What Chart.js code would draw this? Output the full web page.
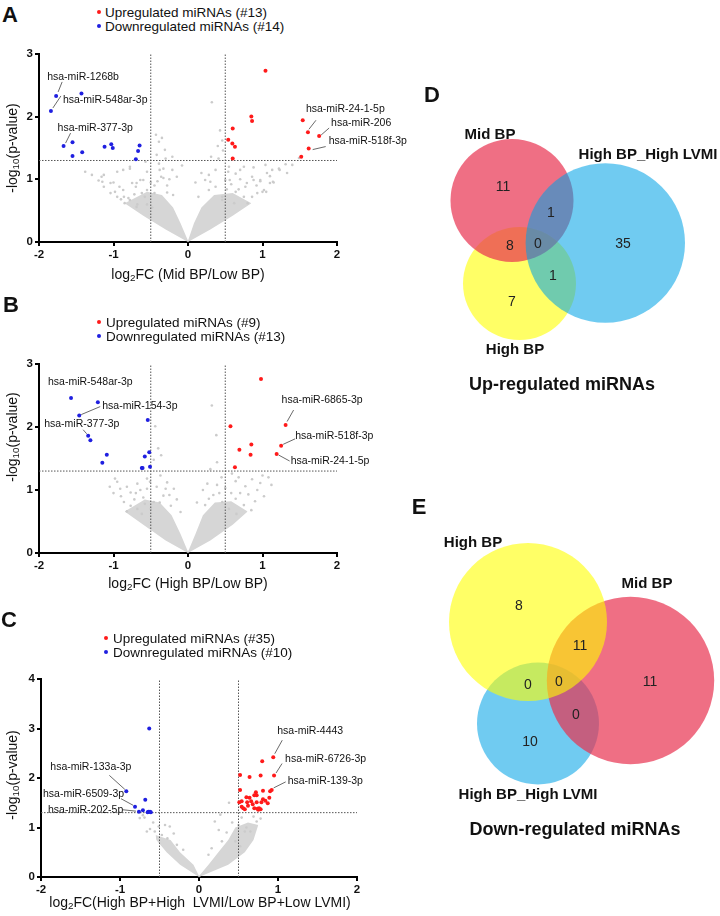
<!DOCTYPE html>
<html>
<head>
<meta charset="utf-8">
<script src="https://cdn.jsdelivr.net/npm/chart.js@4.4.1/dist/chart.umd.min.js"></script>
<style>
  body { margin: 0; background: #fff; }
  #fig { position: relative; width: 720px; height: 916px; overflow: hidden;
         font-family: "Liberation Sans", Arial, sans-serif; color: #111; }
  canvas { position: absolute; }
  .t { position: absolute; white-space: nowrap; transform: translate(-50%, -50%); }
  .letter { font-weight: bold; font-size: 22px; }
  .leg { position: absolute; white-space: nowrap; font-size: 13.5px; transform: translateY(-50%); }
  .dot { position: absolute; width: 4px; height: 4px; border-radius: 50%; transform: translate(-50%, -50%); }
  .ytitle { font-size: 14px; transform: translate(-50%, -50%) rotate(-90deg); }
  .xtitle { font-size: 14px; }
  .vset { font-weight: bold; font-size: 15px; }
  .vtitle { font-weight: bold; font-size: 18px; }
  sub { font-size: 70%; vertical-align: -0.25em; line-height: 0; }
</style>
</head>
<body>
<div id="fig">
  <canvas id="volA" width="420" height="225" style="left:0;top:45px"></canvas>
  <canvas id="volB" width="420" height="226" style="left:0;top:355px"></canvas>
  <canvas id="volC" width="420" height="235" style="left:0;top:670px"></canvas>
  <canvas id="vennD" width="300" height="320" style="left:420px;top:80px"></canvas>
  <canvas id="vennE" width="300" height="310" style="left:420px;top:500px"></canvas>

  <div class="t letter" style="left:10px;top:15px">A</div>
  <div class="dot" style="left:99px;top:12px;background:#ff1a1a"></div>
  <div class="leg" style="left:105px;top:12px">Upregulated miRNAs (#13)</div>
  <div class="dot" style="left:99px;top:26px;background:#1f1fe0"></div>
  <div class="leg" style="left:105px;top:26px">Downregulated miRNAs (#14)</div>
  <div class="t ytitle" style="left:12px;top:148px">-log<sub>10</sub>(p-value)</div>
  <div class="t xtitle" style="left:188px;top:274px">log<sub>2</sub>FC (Mid BP/Low BP)</div>

  <div class="t letter" style="left:11px;top:305px">B</div>
  <div class="dot" style="left:99px;top:322px;background:#ff1a1a"></div>
  <div class="leg" style="left:106px;top:322px">Upregulated miRNAs (#9)</div>
  <div class="dot" style="left:99px;top:336px;background:#1f1fe0"></div>
  <div class="leg" style="left:106px;top:336px">Downregulated miRNAs (#13)</div>
  <div class="t ytitle" style="left:12px;top:437px">-log<sub>10</sub>(p-value)</div>
  <div class="t xtitle" style="left:188px;top:583px">log<sub>2</sub>FC (High BP/Low BP)</div>

  <div class="t letter" style="left:9px;top:620px">C</div>
  <div class="dot" style="left:106px;top:638px;background:#ff1a1a"></div>
  <div class="leg" style="left:113px;top:638px">Upregulated miRNAs (#35)</div>
  <div class="dot" style="left:106px;top:652px;background:#1f1fe0"></div>
  <div class="leg" style="left:113px;top:652px">Downregulated miRNAs (#10)</div>
  <div class="t ytitle" style="left:12px;top:775px">-log<sub>10</sub>(p-value)</div>
  <div class="t xtitle" style="left:200px;top:902px">log<sub>2</sub>FC(High BP+High &nbsp;LVMI/Low BP+Low LVMI)</div>

  <div class="t letter" style="left:432px;top:95px">D</div>
  <div class="t vset" style="left:490px;top:133px">Mid BP</div>
  <div class="t vset" style="left:648px;top:153px">High BP_High LVMI</div>
  <div class="t vset" style="left:515px;top:348px">High BP</div>
  <div class="t vtitle" style="left:562px;top:384px">Up-regulated miRNAs</div>

  <div class="t letter" style="left:419px;top:507px">E</div>
  <div class="t vset" style="left:473px;top:541px">High BP</div>
  <div class="t vset" style="left:647px;top:582px">Mid BP</div>
  <div class="t vset" style="left:528px;top:793px">High BP_High LVMI</div>
  <div class="t vtitle" style="left:575px;top:829px">Down-regulated miRNAs</div>
</div>

<script>
// thresholds
const fcCut = 0.5;
const pCut = 1.3;

// ---- panel A: Mid BP / Low BP ----
const upA = [[1.04,2.73],[0.85,2.00],[0.86,1.93],[0.60,1.81],[0.54,1.63],[0.595,1.57],[0.63,1.52],[0.60,1.33],
  [1.54,1.94],[1.61,1.75],[1.76,1.69],[1.62,1.49],[1.52,1.36]];
const downA = [[-1.77,2.33],[-1.43,2.37],[-1.84,2.09],[-1.67,1.53],[-1.55,1.59],[-1.55,1.37],[-1.42,1.43],
  [-1.12,1.52],[-1.03,1.56],[-1.01,1.50],[-0.65,1.54],[-0.67,1.45],[-0.70,1.32]];
const grayA = [[-1.38,1.12],[-1.29,1.07],[-1.16,1.04],[-1.13,0.88],[-1.04,0.78],[-0.95,0.72],[-0.95,1.12],[-0.87,0.83],
  [-0.78,1.20],[-0.75,0.94],[-0.64,0.99],[-0.57,1.28],[-0.55,1.12],[-0.43,1.71],[-0.39,1.60],[-0.35,1.66],[-0.31,1.47],
  [-0.42,1.39],[-0.30,1.33],[-0.36,1.04],[-0.33,1.17],[-0.21,1.15],[-0.15,1.04],[-0.08,1.22],[-0.50,0.95],[-0.45,0.90],
  [-0.85,0.62],[-0.90,0.68],[-0.70,0.88],[-0.62,0.78],[-1.00,0.95],[-1.20,0.98],[-0.28,0.90],[-0.20,0.75],[-0.55,0.60],
  [-0.48,0.55],[-0.68,0.60],[-0.80,0.70],[-1.13,1.07],[-1.04,0.94],[-1.15,0.96],[-0.87,1.15],[-0.78,1.17],[-0.69,0.94],
  [-0.60,0.99],[-0.55,0.83],[-0.38,1.15],[-0.41,0.97],[-0.33,1.02],[-0.28,0.79],[-0.21,1.36],[-0.39,1.25],[-0.86,0.72],
  [-0.78,0.67],[-0.69,0.56],[-0.98,0.80],[-0.92,0.88],[-0.72,0.76],[-0.58,0.72],[-0.45,0.78],[-0.25,1.0],
  [0.32,2.23],[0.43,1.78],[0.46,1.62],[0.40,1.53],[0.47,1.46],[0.31,1.36],[0.41,1.33],[0.75,1.20],[0.88,1.19],[1.04,1.23],
  [1.15,0.95],[1.13,1.15],[1.31,1.24],[1.40,1.23],[1.49,1.34],[0.97,0.99],[1.05,0.80],[0.86,1.04],[0.77,0.88],[0.64,1.09],
  [0.55,1.20],[0.50,0.99],[0.37,1.15],[0.23,0.99],[0.28,0.83],[0.64,0.80],[0.86,0.72],[1.00,0.80],[0.46,0.72],[0.14,0.72],
  [1.22,1.17],[1.14,0.96],[1.33,1.10],[0.70,1.00],[0.92,0.90],[1.10,1.05],[0.58,0.92],[0.18,1.10],[0.10,0.95],
  [0.28,1.07],[0.30,0.96],[0.37,0.88],[0.54,1.12],[0.56,0.99],[0.70,1.15],[0.79,0.94],[0.88,0.99],[0.93,0.78],[0.97,0.97],
  [1.02,0.83],[1.06,1.10],[1.10,0.94],[1.23,1.15],[0.75,0.72],[0.62,0.62],[0.80,0.62],[0.46,0.67],[0.68,0.84],[0.52,0.84]];
// dense part of the grey cloud: upper and lower outline
const coreTopA = [[-0.85,0.62],[-0.55,0.8],[-0.35,0.75],[-0.2,0.55],[-0.1,0.3],[0,0.02],[0.08,0.3],[0.18,0.55],
  [0.35,0.75],[0.6,0.78],[0.85,0.62]];
const coreBottomA = [[-0.85,0.62],[-0.6,0.42],[-0.3,0.2],[0,0],[0.3,0.2],[0.6,0.42],[0.85,0.62]];
const namesA = ['hsa-miR-1268b','hsa-miR-548ar-3p','hsa-miR-377-3p','hsa-miR-24-1-5p','hsa-miR-206','hsa-miR-518f-3p'];
const namedA = [downA[0], downA[2], downA[3], upA[9], upA[10], upA[11]];

// ---- panel B: High BP / Low BP ----
const upB = [[0.98,2.76],[0.57,2.01],[1.31,2.03],[1.25,1.70],[1.19,1.57],[0.85,1.72],[0.84,1.56],[0.69,1.64],[0.63,1.36]];
const downB = [[-1.57,2.46],[-1.21,2.39],[-1.46,2.18],[-1.34,1.86],[-1.31,1.79],[-1.09,1.56],[-1.15,1.43],
  [-0.54,2.11],[-0.52,1.60],[-0.58,1.53],[-0.51,1.37],[-0.62,1.35],[-0.61,1.35]];
const grayB = [[-0.44,2.01],[-0.40,1.66],[-0.36,1.55],[-0.46,1.48],[-0.95,1.13],[-0.91,1.02],[-0.82,1.05],[-0.68,1.10],
  [-0.77,0.96],[-0.64,1.00],[-0.55,1.02],[-0.51,1.13],[-0.77,0.75],[-0.68,0.70],[-0.86,0.81],[-0.37,1.23],[-0.28,1.12],
  [-0.19,1.02],[-0.33,0.91],[-0.46,0.81],[-0.23,0.75],[-0.55,1.18],[-0.98,1.18],[-1.05,1.05],[-0.60,0.88],[-0.72,0.85],
  [-0.42,1.05],[-0.15,0.85],[-0.10,0.65],[-0.90,0.90],[-0.82,0.66],[-0.62,0.62],[-0.50,0.70],[-0.38,0.80],[-0.30,1.02],
  [-1.00,0.95],[-0.70,0.95],[-0.58,0.78],[-0.25,0.92],
  [0.32,2.34],[0.38,1.87],[0.39,1.44],[0.30,1.33],[0.59,1.26],[0.68,1.20],[0.86,1.17],[1.00,1.23],[0.77,1.06],[0.64,1.14],
  [0.50,1.03],[0.39,1.08],[0.34,0.92],[0.46,0.81],[0.28,0.86],[0.23,0.76],[0.81,0.93],[0.93,1.00],[0.97,1.11],[0.64,0.86],
  [0.55,0.70],[0.75,0.76],[1.08,1.20],[0.45,1.20],[0.20,1.00],[0.12,0.80],[0.90,0.82],[1.12,1.08],[0.70,0.95],[0.58,0.95],
  [0.85,0.68],[0.65,0.62],[1.02,0.90],[0.26,1.10],[0.42,0.95]];
const coreTopB = [[-0.85,0.66],[-0.58,0.85],[-0.38,0.8],[-0.22,0.6],[-0.1,0.3],[0,0.02],[0.1,0.3],[0.2,0.6],
  [0.36,0.8],[0.58,0.82],[0.8,0.66]];
const coreBottomB = [[-0.85,0.66],[-0.6,0.45],[-0.3,0.2],[0,0],[0.3,0.2],[0.6,0.45],[0.8,0.66]];
const namesB = ['hsa-miR-548ar-3p','hsa-miR-154-3p','hsa-miR-377-3p','hsa-miR-6865-3p','hsa-miR-518f-3p','hsa-miR-24-1-5p'];
const namedB = [downB[0], downB[2], downB[3], upB[2], upB[3], upB[4]];

// ---- panel C: High BP+High LVMI / Low BP+Low LVMI ----
const upC = [[0.94,2.42],[0.80,2.34],[0.95,2.05],[0.52,2.06],[0.64,2.02],[0.78,2.05],[0.52,1.76],[0.92,1.76],[0.90,1.73],
  [0.81,1.74],[0.72,1.71],[0.73,1.65],[0.70,1.65],[0.60,1.61],[0.54,1.53],[0.61,1.51],[0.66,1.53],[0.73,1.51],[0.81,1.57],
  [0.84,1.54],[0.79,1.51],[0.68,1.47],[0.56,1.39],[0.58,1.37],[0.70,1.39],[0.74,1.38],[0.76,1.39],[0.75,1.36],[0.78,1.37],
  [0.54,1.42],[0.64,1.60],[0.89,1.60],[0.87,1.49],[0.51,1.51],[0.62,1.44]];
const downC = [[-0.63,3.00],[-0.92,1.73],[-0.68,1.56],[-0.81,1.42],[-0.71,1.35],[-0.76,1.32],[-0.64,1.32],[-0.62,1.32],
  [-0.65,1.31],[-0.61,1.31]];
const grayC = [[-0.75,1.19],[-0.69,1.20],[-0.71,1.25],[-0.62,0.97],[-0.56,0.92],[-0.51,1.02],[-0.43,1.05],[-0.37,1.02],
  [-0.47,0.85],[-0.32,0.88],[-0.66,0.92],[-0.28,0.65],[-0.20,0.55],[-0.40,0.78],[-0.58,1.10],
  [0.27,1.26],[0.20,1.12],[0.35,0.90],[0.58,0.92],[0.65,0.92],[0.73,1.12],[0.54,1.20],[0.69,1.22],[0.46,0.72],[0.29,0.72],
  [0.16,0.58],[0.38,1.50],[0.42,1.10],[0.50,1.05],[0.60,1.00],[0.78,1.18],[0.25,0.95],[0.12,0.45],[0.52,0.62]];
const coreTopC = [[-0.55,0.85],[-0.36,0.75],[-0.24,0.5],[-0.07,0.25],[0,0.02],[0.12,0.25],[0.245,0.5],[0.37,0.75],
  [0.46,1.0],[0.62,1.1],[0.75,1.05]];
const coreBottomC = [[-0.55,0.85],[-0.54,0.75],[-0.41,0.5],[-0.24,0.25],[0,0],[0.37,0.25],[0.58,0.5],[0.69,0.75],[0.75,1.05]];
const namesC = ['hsa-miR-4443','hsa-miR-6726-3p','hsa-miR-139-3p','hsa-miR-133a-3p','hsa-miR-6509-3p','hsa-miR-202-5p'];
const namedC = [upC[0], upC[2], upC[7], downC[1], downC[3], downC[5]];

// ---- Venn counts (region order: A only, A&C, A&B, all, C only, B&C, B only) ----
const upSets = ['Mid BP', 'High BP', 'High BP_High LVMI'];
const upCounts = [11, 1, 8, 0, 35, 1, 7];
const downSets = ['High BP', 'Mid BP', 'High BP_High LVMI'];
const downCounts = [8, 11, 0, 0, 11, 0, 10];

// label placement: [text dx, text dy, leader x1, y1, x2, y2] in px from the point
const labelPosA = [[-9,-19,6,-14,2,-4],[12,-11,10,-15,2,-3],[-6,-18,7,-13,2,-3],
  [-2,-23,8,-12,1,-3],[12,-13,10,-8,2,-1],[20,-7,17,-2,4,1]];
const labelPosB = [[-23,-16],[23,-9,21,-9,2,-1],[-44,-12,-5,-6,-1.5,-2],
  [-4,-25,8,-15,1.5,-3.5],[14,-10,14,-7,2,-1.5],[14,7,13,7,2,1]];
const labelPosC = [[4,-26,9,-17,1.5,-3.5],[11,-16,8,-12,2,-2.5],[16,-9,14,-8,2,-2],
  [-76,-24,-17,-16,-1.5,-2],[-92,-13,-14,-8,-2,-1.5],[-91,-2,-17,-2,-3,-0.5]];

// Venn layout: canvas px (scale units are 1:1 with pixels)
const COL_RED = 'rgba(232,50,80,0.7)', COL_YEL = 'rgba(255,255,0,0.6)', COL_BLU = 'rgba(0,162,230,0.56)';
const upCircles = [ {x:185.3, y:163, r:79.7, c:COL_BLU}, {x:92, y:120.5, r:61.5, c:COL_RED}, {x:99.5, y:203.5, r:56.5, c:COL_YEL} ];
const upCountPos = [[83,107],[131,133],[90,166],[118,164],[203,164],[133,196],[92,222]];
const downCircles = [ {x:108, y:122, r:79, c:COL_YEL}, {x:210.5, y:180.5, r:83.7, c:COL_RED}, {x:118, y:223.5, r:61, c:COL_BLU} ];
const downCountPos = [[99,106],[160,146],[108,185],[139,182],[230,182],[156,215],[110,242]];

const FONT = '"Liberation Sans", Arial, sans-serif';

Chart.register({
  id: 'pointLabels',
  afterDatasetsDraw(chart, args, opts) {
    if (!opts.names) return;
    const { ctx, scales: { x, y } } = chart;
    ctx.save();
    ctx.font = '10.5px ' + FONT;
    ctx.fillStyle = '#111';
    ctx.strokeStyle = '#444';
    ctx.lineWidth = 0.8;
    ctx.textBaseline = 'middle';
    opts.names.forEach((name, i) => {
      const px = x.getPixelForValue(opts.points[i][0]);
      const py = y.getPixelForValue(opts.points[i][1]);
      const p = opts.pos[i];
      ctx.fillText(name, px + p[0], py + p[1]);
      if (p.length > 2) {
        ctx.beginPath();
        ctx.moveTo(px + p[2], py + p[3]);
        ctx.lineTo(px + p[4], py + p[5]);
        ctx.stroke();
      }
    });
    ctx.restore();
  }
});

Chart.register({
  id: 'vennCounts',
  afterDatasetsDraw(chart, args, opts) {
    if (!opts.counts) return;
    const { ctx, scales: { x, y } } = chart;
    ctx.save();
    ctx.font = '14px ' + FONT;
    ctx.fillStyle = '#222';
    ctx.textAlign = 'center';
    ctx.textBaseline = 'middle';
    opts.counts.forEach((n, i) => {
      ctx.fillText(String(n), x.getPixelForValue(opts.pos[i][0]), y.getPixelForValue(opts.pos[i][1]));
    });
    ctx.restore();
  }
});

const pts = a => a.map(p => ({ x: p[0], y: p[1] }));

function volcano(id, o) {
  const dotted = { borderColor: '#555', borderWidth: 1, borderDash: [1.5, 1.5], pointRadius: 0, showLine: true, fill: false };
  const axisBase = {
    grid: { drawOnChartArea: false, color: '#000', lineWidth: 2, tickLength: 4 },
    border: { color: '#000', width: 2 },
    ticks: { stepSize: 1, color: '#111', padding: 2, maxRotation: 0, font: { family: FONT, size: 11.5, weight: 'bold' } }
  };
  new Chart(document.getElementById(id), {
    type: 'scatter',
    data: {
      datasets: [
        { data: pts(o.up), backgroundColor: '#ff1a1a', pointRadius: 2, borderWidth: 0 },
        { data: pts(o.down), backgroundColor: '#1f1fe0', pointRadius: 2, borderWidth: 0 },
        { ...dotted, data: [{ x: -fcCut, y: 0 }, { x: -fcCut, y: o.yMax }] },
        { ...dotted, data: [{ x: fcCut, y: 0 }, { x: fcCut, y: o.yMax }] },
        { ...dotted, data: [{ x: -2, y: pCut }, { x: 2, y: pCut }] },
        { data: pts(o.gray), backgroundColor: '#cbcbcb', pointRadius: 1.3, borderWidth: 0 },
        { data: pts(o.coreTop), showLine: true, pointRadius: 0, borderWidth: 0, fill: '+1', backgroundColor: '#d6d6d6' },
        { data: pts(o.coreBottom), showLine: true, pointRadius: 0, borderWidth: 0, fill: false }
      ]
    },
    options: {
      responsive: false,
      animation: false,
      events: [],
      layout: { padding: { top: o.padTop, right: o.padRight, left: 0, bottom: 0 } },
      plugins: {
        legend: { display: false },
        tooltip: { enabled: false },
        pointLabels: { names: o.names, points: o.named, pos: o.pos }
      },
      scales: {
        x: { type: 'linear', min: -2, max: 2, ...axisBase, afterFit: s => { s.height = 28; } },
        y: { type: 'linear', min: 0, max: o.yMax, ...axisBase, afterFit: s => { s.width = o.axisLeft; } }
      }
    }
  });
}

function venn(id, circles, counts, countPos, w, h) {
  // bubble charts inset the plot area by the largest radius on every side;
  // shift the scale range by the same amount so units stay equal to canvas px
  const inset = Math.max(...circles.map(c => c.r));
  new Chart(document.getElementById(id), {
    type: 'bubble',
    data: {
      datasets: circles.map(c => ({
        data: [{ x: c.x, y: c.y, r: c.r }],
        backgroundColor: c.c,
        borderWidth: 0,
        clip: false
      }))
    },
    options: {
      responsive: false,
      animation: false,
      events: [],
      layout: { padding: 0 },
      plugins: { legend: { display: false }, tooltip: { enabled: false }, vennCounts: { counts: counts, pos: countPos } },
      scales: {
        x: { type: 'linear', min: inset, max: w - inset, display: false },
        y: { type: 'linear', min: inset, max: h - inset, reverse: true, display: false }
      }
    }
  });
}

volcano('volA', { up: upA, down: downA, gray: grayA, coreTop: coreTopA, coreBottom: coreBottomA,
  names: namesA, named: namedA, pos: labelPosA, yMax: 3, padTop: 8, padRight: 83, axisLeft: 39 });
volcano('volB', { up: upB, down: downB, gray: grayB, coreTop: coreTopB, coreBottom: coreBottomB,
  names: namesB, named: namedB, pos: labelPosB, yMax: 3, padTop: 8.3, padRight: 83, axisLeft: 39 });
volcano('volC', { up: upC, down: downC, gray: grayC, coreTop: coreTopC, coreBottom: coreBottomC,
  names: namesC, named: namedC, pos: labelPosC, yMax: 4, padTop: 9, padRight: 63, axisLeft: 41 });

venn('vennD', upCircles, upCounts, upCountPos, 300, 320);
venn('vennE', downCircles, downCounts, downCountPos, 300, 310);
</script>
</body>
</html>
